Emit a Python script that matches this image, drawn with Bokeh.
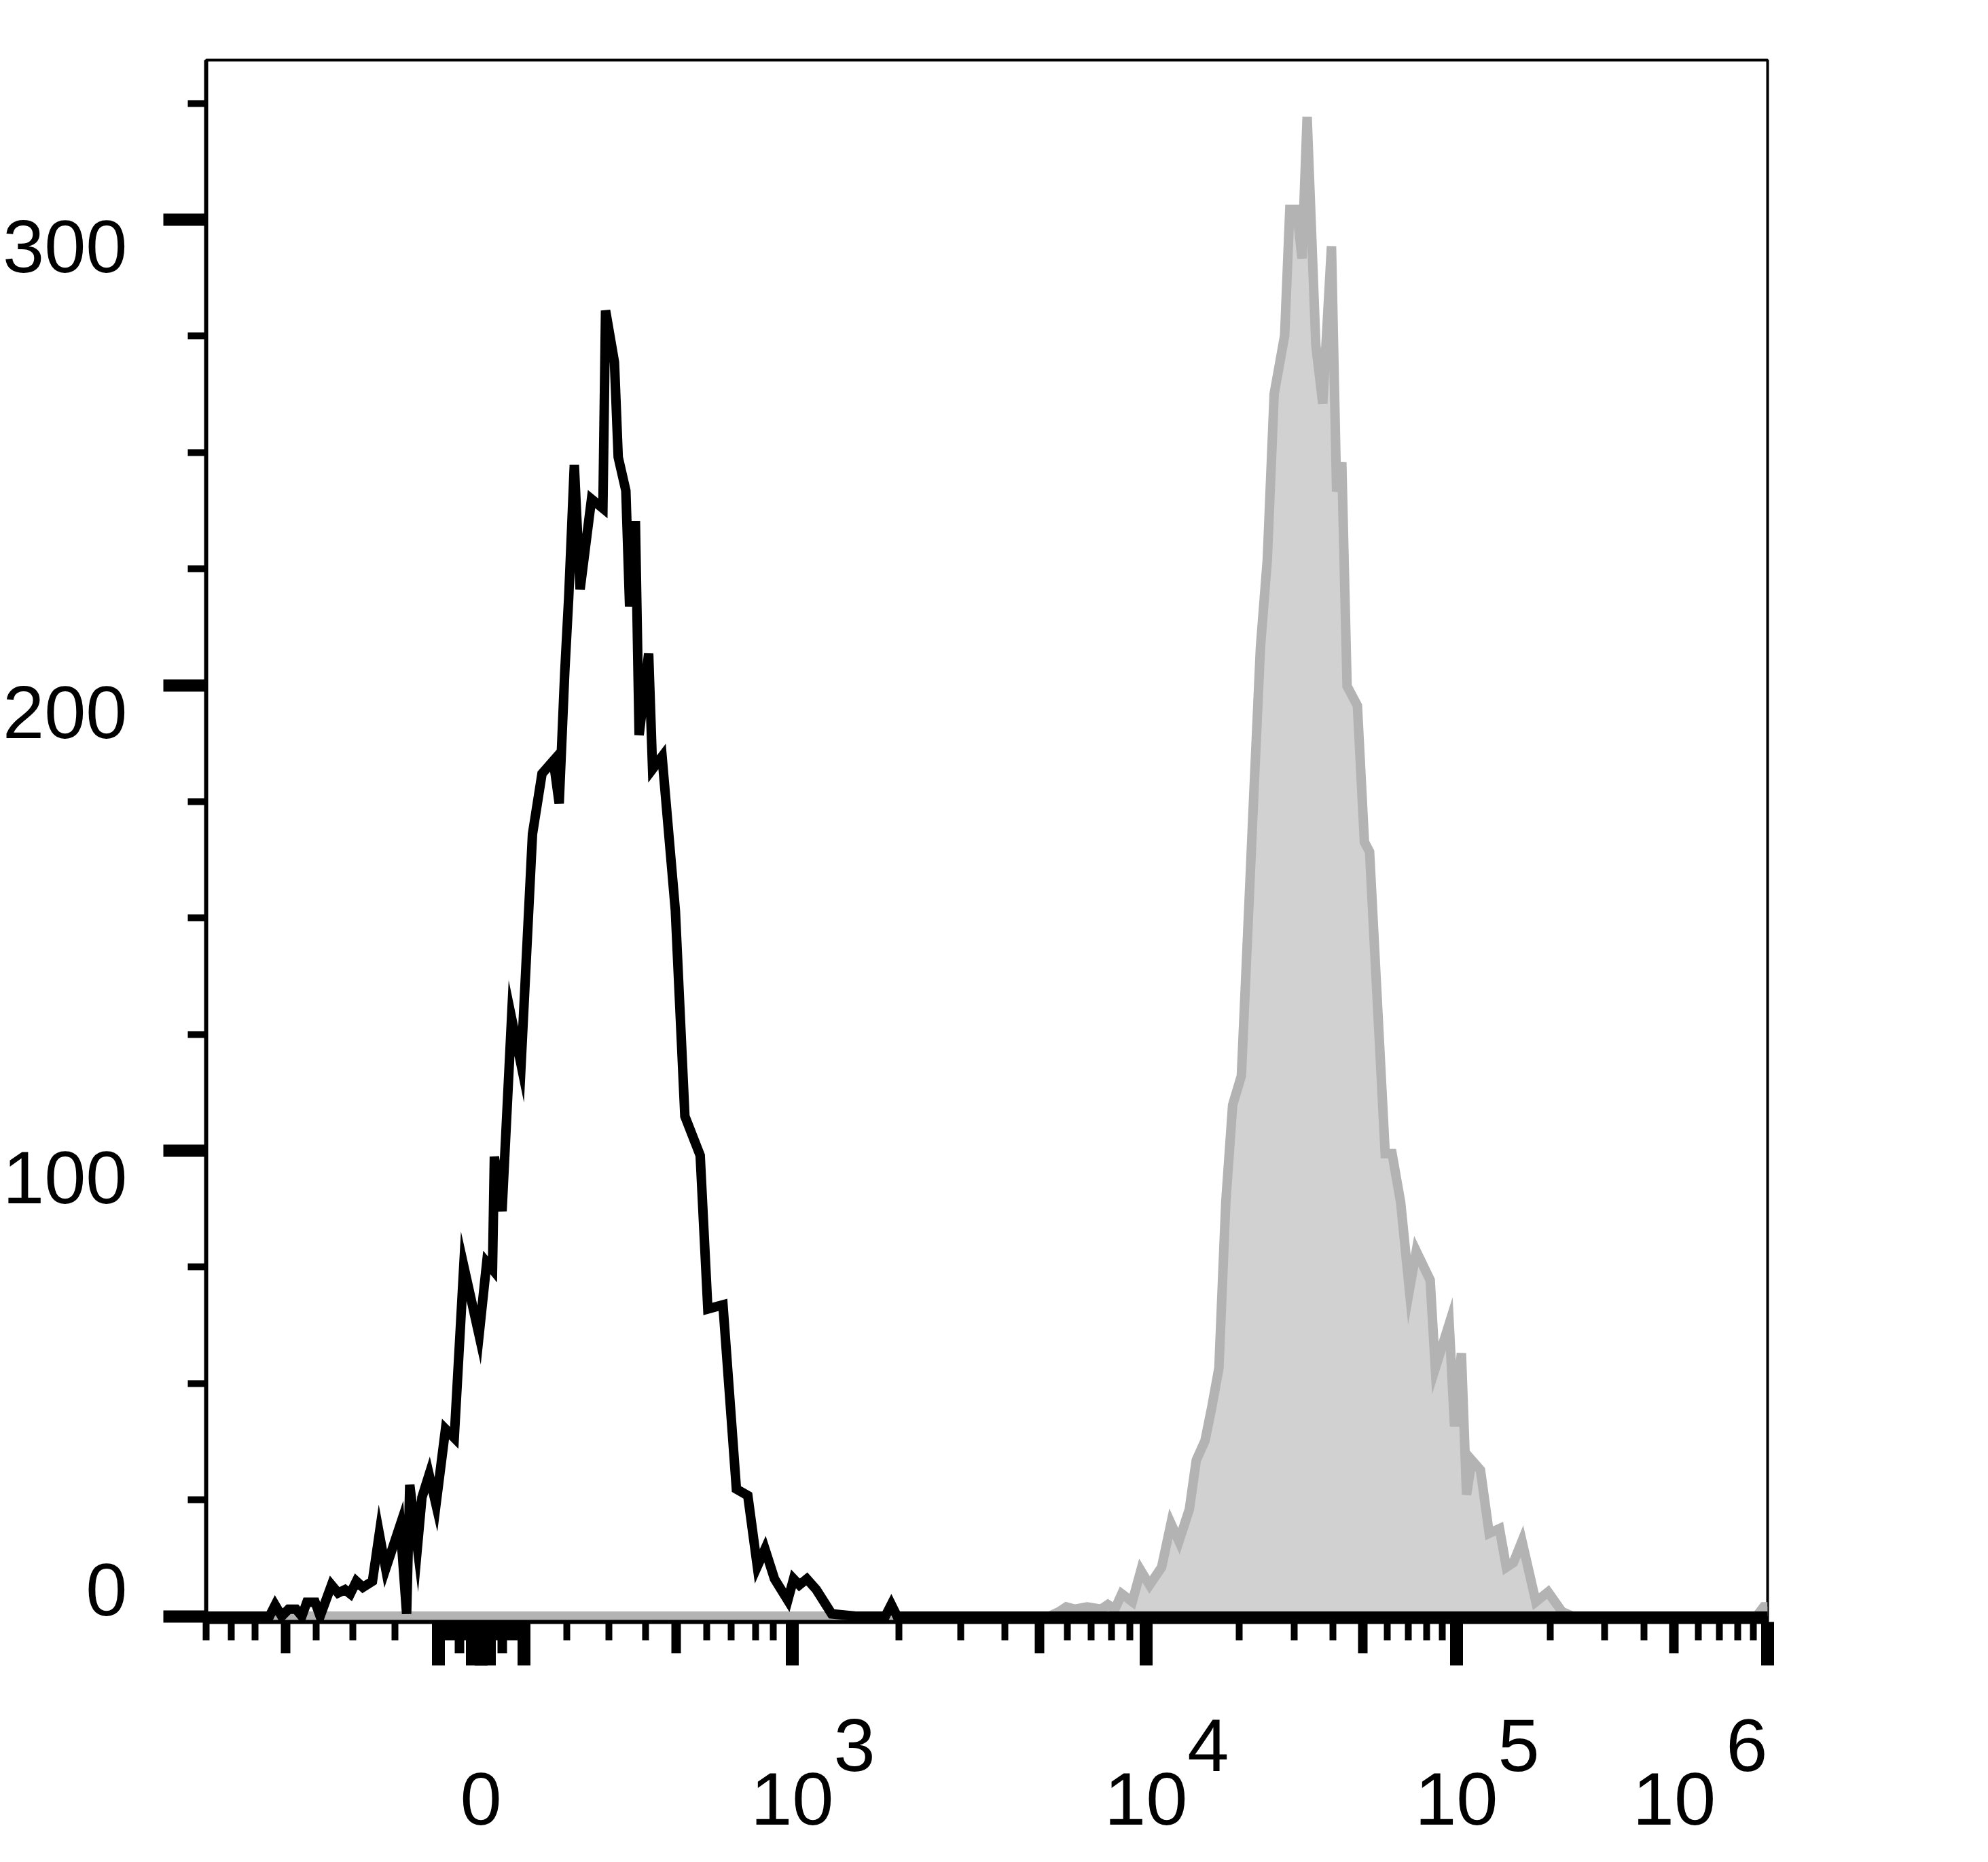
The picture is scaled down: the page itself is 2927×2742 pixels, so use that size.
import numpy as np
from bokeh.plotting import figure
from bokeh.models import Range1d, FixedTicker, LinearAxis
from bokeh.embed import file_html
from bokeh.resources import INLINE

# ---- biexponential display scale: raw intensity -> display channel (0..1000)
SCALE_LIN_VALUES = [0, 100, 200, 300, 400, 500, 600, 700, 800, 900, 1000]
SCALE_LIN_OFFSETS = [0, 27.4, 54.9, 82.0, 105.6, 125.1, 144.5, 160.1, 176.0, 187.4, 199.3]
SCALE_ZERO = 176.0
SCALE_LOG_DECADES = [3, 4, 5, 6]
SCALE_LOG_CHANNELS = [375.3, 601.9, 800.7, 1000.0]


def to_channel(v):
    if abs(v) <= 1000:
        return float(SCALE_ZERO + np.sign(v) * np.interp(abs(v), SCALE_LIN_VALUES, SCALE_LIN_OFFSETS))
    return float(np.interp(np.log10(v), SCALE_LOG_DECADES, SCALE_LOG_CHANNELS))


# ---- x axis ticks (raw intensity values)
NB = "\u00a0"
X_LABELED_VALUES = [0, 1e3, 1e4, 1e5, 1e6]
X_LABELS = ["\n0",
            NB * 6 + "3\n10",
            NB * 6 + "4\n10",
            NB * 6 + "5\n10",
            "6" + NB * 2 + "\n10" + NB * 9]
X_LONG_VALUES = [-100, -20, -10, 10, 20, 100]
X_MEDIUM_VALUES = [-500, -50, 50, 500, 5e3, 5e4, 5e5]
X_MINOR_VALUES = [-800, -700, -600, -400, -300, -200,
                  -90, -80, -70, -60, -40, -30, 30, 40, 60, 70, 80, 90,
                  200, 300, 400, 600, 700, 800, 900,
                  2e3, 3e3, 4e3, 6e3, 7e3, 8e3, 9e3,
                  2e4, 3e4, 4e4, 6e4, 7e4, 8e4, 9e4,
                  2e5, 3e5, 4e5, 6e5, 7e5, 8e5, 9e5]

# ---- y axis ticks
Y_MAJOR = [0, 100, 200, 300]
Y_MINOR = [25, 50, 75, 125, 150, 175, 225, 250, 275, 325]
Y_LABELS = {0: "0\n", 100: "\n100", 200: "\n200", 300: "\n300"}

# ---- histograms (display channel, event count)
CONTROL_CHANNEL = [0.0, 33.2, 40.6, 44.2, 48.4, 52.8, 57.6, 61.3, 64.5, 69.8, 73.0, 80.3, 84.5,
                   88.9, 92.3, 96.2, 100.4, 106.5, 110.9, 115.0, 124.3, 128.4, 130.4, 135.3,
                   138.2, 142.8, 147.2, 153.3, 158.9, 165.0, 174.8, 179.7, 183.4, 184.6, 189.5,
                   195.6, 201.7, 209.0, 215.1, 222.4, 226.1, 229.7, 232.2, 235.8, 239.5, 246.8,
                   254.1, 255.8, 261.5, 263.9, 268.8, 271.2, 274.9, 277.3, 283.4, 285.9, 292.0,
                   300.5, 306.6, 316.4, 321.3, 331.0, 339.6, 346.9, 353.0, 357.9, 364.0, 372.5,
                   376.2, 379.9, 384.7, 390.8, 400.6, 416.0, 435.0, 438.8, 442.5, 1000.0]
CONTROL_COUNT = [0, 0, 0, 2.4, 0, 1.5, 1.5, 0, 3, 3, 0, 6.7, 5,
                 5.7, 4.8, 7.5, 6.2, 7.5, 17.7, 10.2, 19.6, 0.5, 28.2, 14.8,
                 25.5, 30.4, 24, 40.2, 38.3, 75.2, 60.4, 76, 74.5, 98.7, 87,
                 128.5, 118.5, 168, 181, 183.8, 174.6, 203, 218.8, 247.3, 220.6, 240,
                 238, 280.5, 269.4, 249, 241.8, 216.9, 235.3, 189.3, 206.8, 182, 184.7,
                 151.6, 107.4, 99, 66, 66.9, 27.3, 25.9, 10.7, 14.4, 8, 3.4,
                 8, 6.7, 8, 5.7, 0.5, 0, 0, 2.5, 0, 0]

STAINED_CHANNEL = [0.0, 540.0, 546.5, 550.9, 556.5, 564.2, 573.1, 577.5, 582.0, 586.4, 593.1,
                   598.6, 604.2, 611.9, 617.9, 623.0, 629.7, 634.1, 639.7, 644.1, 648.6, 653.0,
                   657.4, 663.0, 670.7, 675.2, 679.6, 684.0, 690.7, 694.0, 698.5, 701.8, 705.1,
                   710.7, 715.1, 720.7, 724.0, 727.3, 730.7, 737.3, 741.8, 745.1, 755.1, 759.5,
                   765.0, 770.6, 775.0, 783.9, 787.2, 796.1, 799.5, 803.9, 807.2, 810.6, 816.1,
                   821.7, 828.3, 832.7, 837.2, 842.7, 851.6, 859.4, 868.2, 874.9, 993.0, 997.5,
                   1000.0]
STAINED_COUNT = [0, 0, 1, 2, 1.5, 2, 1.5, 2.5, 1.5, 4.8, 3.1,
                 9.8, 6.7, 10.5, 19.9, 16.1, 23, 33.5, 37.7, 45, 53.3, 88.9,
                 109.8, 116.1, 174.7, 208.1, 227, 262.6, 275.1, 302.2, 302.2, 291.7, 322.1,
                 273, 260.5, 294.3, 241.6, 247.9, 199.8, 195.6, 166.3, 164.2, 99.4, 99.4,
                 88.9, 70.1, 78.4, 72.2, 53.3, 62.8, 40.8, 56.5, 26.1, 33.5, 31.4,
                 17.8, 18.8, 10.5, 11.5, 16.1, 3.1, 5.2, 1, 0, 0, 2,
                 2]

FONT = "Liberation Sans"
FONT_SIZE = "110px"
Y_START, Y_END = -1.24, 334.3

p = figure(frame_width=2299, frame_height=2300,
           x_range=Range1d(0, 1000), y_range=Range1d(Y_START, Y_END),
           output_backend="svg", toolbar_location=None,
           min_border_left=296, min_border_top=88, min_border_right=316, min_border_bottom=338)
p.xgrid.visible = False
p.ygrid.visible = False
p.outline_line_color = "black"
p.outline_line_width = 4
p.background_fill_color = "white"
p.border_fill_color = "white"

# stained (filled grey)
p.varea(x=STAINED_CHANNEL, y1=0, y2=STAINED_COUNT, fill_color="#d1d1d1")
p.line(STAINED_CHANNEL, STAINED_COUNT, line_color="#b3b3b3", line_width=14, line_join="miter")
# control (black outline)
p.line(CONTROL_CHANNEL, CONTROL_COUNT, line_color="black", line_width=14, line_join="miter")

# ---- x axis: labeled decade ticks + short minor ticks
xa = p.xaxis[0]
xa.ticker = FixedTicker(ticks=[to_channel(v) for v in X_LABELED_VALUES],
                        minor_ticks=[to_channel(v) for v in X_MINOR_VALUES])
xa.major_label_overrides = {to_channel(v): s for v, s in zip(X_LABELED_VALUES, X_LABELS)}
xa.major_tick_out = 64
xa.major_tick_in = 0
xa.minor_tick_out = 27
xa.minor_tick_in = 0
xa.major_tick_line_width = 19
xa.minor_tick_line_width = 10
xa.axis_line_width = 6
xa.major_label_standoff = 55
xa.major_label_text_font = FONT
xa.major_label_text_font_size = FONT_SIZE
xa.major_label_text_line_height = 0.65
xa.major_label_text_color = "black"


def tick_only_axis(values, length, width):
    # zero-extent axis: ticks drawn outward through a negative inner length
    return LinearAxis(ticker=FixedTicker(ticks=[], minor_ticks=[to_channel(v) for v in values]),
                      major_tick_out=0, major_tick_in=0,
                      minor_tick_out=0, minor_tick_in=-length,
                      minor_tick_line_width=width, axis_line_color=None,
                      major_label_standoff=0)


long_axis = tick_only_axis(X_LONG_VALUES, 64, 19)
medium_axis = tick_only_axis(X_MEDIUM_VALUES, 46, 14)
p.below = [long_axis, medium_axis, xa]

# ---- y axis
ya = p.yaxis[0]
ya.ticker = FixedTicker(ticks=Y_MAJOR, minor_ticks=Y_MINOR)
ya.major_label_overrides = Y_LABELS
ya.major_tick_out = 63
ya.major_tick_in = 0
ya.minor_tick_out = 27
ya.minor_tick_in = 0
ya.major_tick_line_width = 18
ya.minor_tick_line_width = 10
ya.axis_line_width = 6
ya.major_label_standoff = 53
ya.major_label_text_font = FONT
ya.major_label_text_font_size = FONT_SIZE
ya.major_label_text_line_height = 0.64
ya.major_label_text_color = "black"

open("out.html", "w").write(file_html(p, INLINE))
